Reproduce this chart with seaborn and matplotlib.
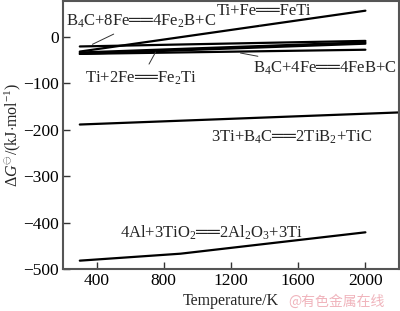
import matplotlib
matplotlib.use("Agg")
import matplotlib.pyplot as plt
import seaborn as sns
import pandas as pd

# ---- data ----
T_pair = [300, 2000]
b4c_8fe = [-21, -9]
ti_2fe = [-34, -12]
unlabeled = [-37, -15]
b4c_4fe = [-37, -28]
ti_fe = [-32, 56]
T_tib2 = [300, 2200]
ti_b4c = [-189, -163]
T_al = [300, 900, 2000]
al_tio2 = [-482, -467, -421]

x_ticks = [400, 800, 1200, 1600, 2000]
y_ticks = [0, -100, -200, -300, -400, -500]

series = {
    "B4C+8Fe": (T_pair, b4c_8fe),
    "Ti+2Fe": (T_pair, ti_2fe),
    "other": (T_pair, unlabeled),
    "B4C+4Fe": (T_pair, b4c_4fe),
    "Ti+Fe": (T_pair, ti_fe),
    "3Ti+B4C": (T_tib2, ti_b4c),
    "4Al+3TiO2": (T_al, al_tio2),
}
rows = []
for name, (xs, ys) in series.items():
    for x, y in zip(xs, ys):
        rows.append({"T": x, "G": y, "r": name})
df = pd.DataFrame(rows)

sns.set_style("ticks")
plt.rcParams["font.family"] = ["Liberation Serif", "DejaVu Sans"]
plt.rcParams["mathtext.fontset"] = "custom"
plt.rcParams["mathtext.rm"] = "Liberation Serif"
plt.rcParams["mathtext.it"] = "Liberation Serif:italic"

fig = plt.figure(figsize=(4.0, 3.11), dpi=100)
ax = fig.add_axes([0.1575, 0.135, 0.84, 0.862])

sns.lineplot(data=df, x="T", y="G", hue="r", units="r", estimator=None,
             palette=["black"] * len(series), linewidth=1.6, legend=False,
             sort=False, ax=ax)

ax.set_xlim(200, 2200)
ax.set_ylim(-500, 77)
ax.set_xticks(x_ticks)
ax.set_yticks(y_ticks)
ax.set_xticklabels([str(v) for v in x_ticks])
ax.set_yticklabels([str(v).replace("-", "\u2212") for v in y_ticks])
ax.tick_params(direction="in", length=5, width=1, labelsize=12.5, colors="#333333",
               labelcolor="black", pad=3)
for s in ax.spines.values():
    s.set_color("#555555")
    s.set_linewidth(1.5)

ax.set_xlabel("Temperature/K", fontsize=11.5, labelpad=3)
ax.set_ylabel(r"$\Delta G^{\ominus}$/(kJ$\cdot$mol$^{-1}$)", fontsize=11.5, labelpad=0)

eq = "\u2550\u2550"
fs = 12
ann_kw = dict(fontsize=fs, ha="left", va="center",
              arrowprops=dict(arrowstyle="-", color="#333333", lw=0.7))
ax.annotate("B$_4$C+8Fe" + eq + "4Fe$_2$B+C", xy=(360, -19), xytext=(218, 34), **ann_kw)
ax.annotate("Ti+Fe" + eq + "FeTi", xy=(1371, 23), xytext=(1115, 55), **ann_kw)
ax.annotate("Ti+2Fe" + eq + "Fe$_2$Ti", xy=(759, -28), xytext=(331, -90), **ann_kw)
ax.annotate("B$_4$C+4Fe" + eq + "4FeB+C", xy=(1240, -34), xytext=(1329, -69), **ann_kw)
ax.text(1080, -217, "3Ti+B$_4$C" + eq + "2TiB$_2$+TiC", fontsize=fs, ha="left", va="center")
ax.text(539, -421, "4Al+3TiO$_2$" + eq + "2Al$_2$O$_3$+3Ti", fontsize=fs, ha="left", va="center")

fig.text(0.9625, 0.006, "@有色金属在线", fontsize=10, color="#f0b4bc", ha="right", va="bottom",
         family=["Noto Sans CJK SC", "DejaVu Sans"])

fig.savefig("out.png", dpi=100)
